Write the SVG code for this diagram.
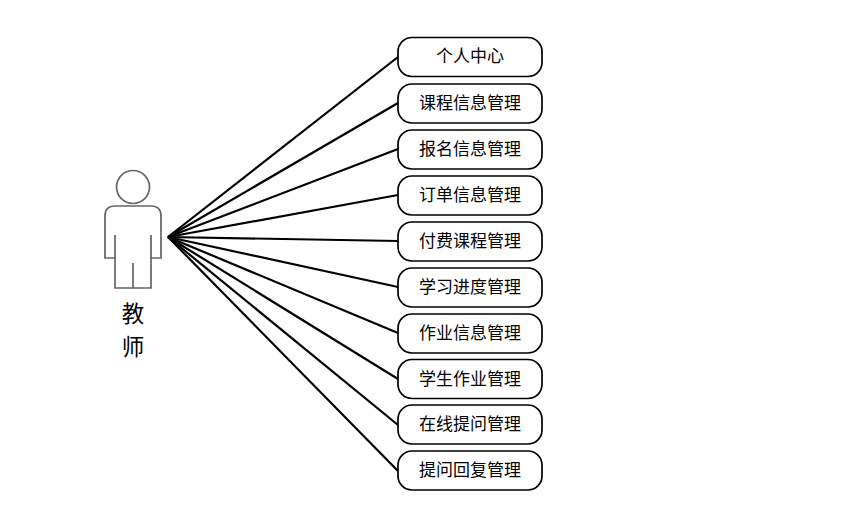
<svg xmlns="http://www.w3.org/2000/svg" width="849" height="529" viewBox="0 0 849 529">
<style>
.n{fill:#fff;stroke:#000;stroke-width:1.7}
.t{font-family:"Noto Sans CJK SC","Liberation Sans",sans-serif;font-size:17px;font-weight:400;text-anchor:middle;fill:#000}
.c{fill:none;stroke:#000;stroke-width:2.2}
.a{fill:#fff;stroke:#666;stroke-width:1.7}
.l{font-family:"Noto Sans CJK SC",sans-serif;font-size:22.500px;text-anchor:middle;fill:#000}
</style>
<rect width="849" height="529" fill="#fff"/>
<g id="connectors" class="c">
<path d="M168 237L398 57"/><path d="M168 237L398 103"/><path d="M168 237L398 149"/><path d="M168 237L398 195"/><path d="M168 237L398 241"/><path d="M168 237L398 287"/><path d="M168 237L398 333"/><path d="M168 237L398 379"/><path d="M168 237L398 425"/><path d="M168 237L398 471"/>
</g>
<g id="actor">
<circle class="a" cx="133" cy="187" r="16.500"/>
<path class="a" d="M115 206H151Q161 206 161 216V258H151V288H115V258H105V216Q105 206 115 206Z"/>
<path class="a" d="M115 235V258M151 235V258M133 263V288"/>
<text class="l" x="133" y="322"><tspan x="133">教</tspan><tspan x="133" dy="33">师</tspan></text>
</g>
<g id="n1"><rect class="n" x="398" y="37.500" width="144" height="39" rx="14"/><text class="t" x="470" y="62">个人中心</text></g>
<g id="n2"><rect class="n" x="398" y="84" width="144" height="39" rx="14"/><text class="t" x="470" y="109">课程信息管理</text></g>
<g id="n3"><rect class="n" x="398" y="130" width="144" height="39" rx="14"/><text class="t" x="470" y="155">报名信息管理</text></g>
<g id="n4"><rect class="n" x="398" y="176" width="144" height="39" rx="14"/><text class="t" x="470" y="201">订单信息管理</text></g>
<g id="n5"><rect class="n" x="398" y="222" width="144" height="39" rx="14"/><text class="t" x="470" y="247">付费课程管理</text></g>
<g id="n6"><rect class="n" x="398" y="268" width="144" height="39" rx="14"/><text class="t" x="470" y="293">学习进度管理</text></g>
<g id="n7"><rect class="n" x="398" y="314" width="144" height="39" rx="14"/><text class="t" x="470" y="339">作业信息管理</text></g>
<g id="n8"><rect class="n" x="398" y="359.500" width="144" height="39" rx="14"/><text class="t" x="470" y="385">学生作业管理</text></g>
<g id="n9"><rect class="n" x="398" y="405" width="144" height="39" rx="14"/><text class="t" x="470" y="430">在线提问管理</text></g>
<g id="n10"><rect class="n" x="398" y="451" width="144" height="39" rx="14"/><text class="t" x="470" y="476">提问回复管理</text></g>
</svg>
